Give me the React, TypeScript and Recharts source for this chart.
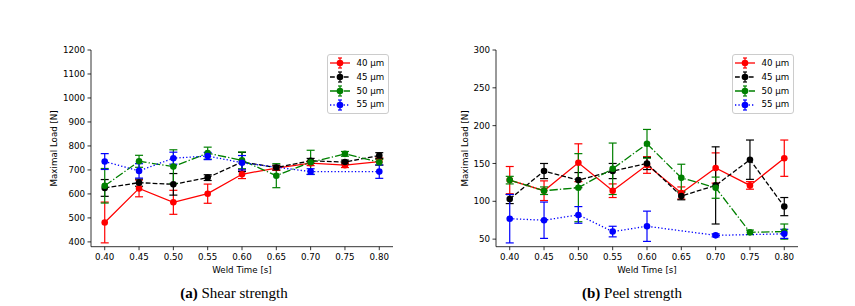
import { LineChart, Line, XAxis, YAxis, ErrorBar, Legend } from 'recharts';

const weldTimes = [0.4, 0.45, 0.5, 0.55, 0.6, 0.65, 0.7, 0.75, 0.8];

// shear test, maximal load [N] and std per thickness
const shear40 = [481, 623, 565, 601, 682, 708, 728, 720, 735];
const shear40Err = [85, 35, 50, 40, 18, 10, 10, 10, 15];
const shear45 = [625, 647, 640, 668, 733, 710, 738, 733, 760];
const shear45Err = [35, 15, 45, 12, 40, 10, 10, 8, 12];
const shear50 = [634, 736, 714, 770, 740, 676, 732, 767, 732];
const shear50Err = [72, 25, 70, 25, 35, 50, 50, 10, 12];
const shear55 = [735, 696, 749, 758, 730, null, 693, null, 693];
const shear55Err = [33, 30, 25, 15, 30, null, 12, null, 28];

// peel test
const peel40 = [128, 114, 151, 114, 148, 111, 144, 121, 157];
const peel40Err = [18, 13, 25, 9, 11, 8, 20, 5, 24];
const peel45 = [103, 140, 128, 140, 150, 107, 121, 155, 93];
const peel45Err = [6, 10, 10, 10, 8, 5, 51, 26, 12];
const peel50 = [128, 114, 118, 143, 176, 131, 118, 59, 60];
const peel50Err = [5, 5, 45, 34, 19, 18, 14, 3, 10];
const peel55 = [77, 75, 82, 60, 67, null, 55, null, 57];
const peel55Err = [32, 24, 11, 7, 20, null, 2, null, 6];

const shearTicks = [400, 500, 600, 700, 800, 900, 1000, 1100, 1200];
const peelTicks = [50, 100, 150, 200, 250, 300];

const FONT = '"DejaVu Sans", sans-serif';

const seriesStyles = [
  { key: 'a', name: '40 µm', color: '#ff0000', dash: undefined as string | undefined },
  { key: 'b', name: '45 µm', color: '#000000', dash: '4.8 2.1' },
  { key: 'c', name: '50 µm', color: '#008000', dash: '8.3 2.1 1.3 2.1' },
  { key: 'd', name: '55 µm', color: '#0000ff', dash: '1.3 2.1' },
];

type Cell = number | null;

function buildRows(values: Cell[][], errors: Cell[][]) {
  return weldTimes.map((t, i) => {
    const row: Record<string, Cell> = { t };
    seriesStyles.forEach((s, j) => {
      row[s.key] = values[j][i];
      row[s.key + 'Err'] = errors[j][i];
    });
    return row;
  });
}

const shearData = buildRows(
  [shear40, shear45, shear50, shear55],
  [shear40Err, shear45Err, shear50Err, shear55Err],
);
const peelData = buildRows(
  [peel40, peel45, peel50, peel55],
  [peel40Err, peel45Err, peel50Err, peel55Err],
);

const LegendBox = () => (
  <div style={{
    width: 62, boxSizing: 'border-box', border: '1px solid #cccccc', borderRadius: 3,
    background: 'rgba(255,255,255,0.8)', padding: '1.4px 0', fontFamily: FONT, fontSize: 8.7, color: '#000',
  }}>
    {seriesStyles.map(s => (
      <div key={s.key} style={{ display: 'flex', alignItems: 'center', height: 13.8 }}>
        <svg width={20} height={12} style={{ marginLeft: 1.5, overflow: 'visible' }}>
          <line x1={0} x2={20} y1={6} y2={6} stroke={s.color} strokeWidth={1.3} strokeDasharray={s.dash} />
          <line x1={10} x2={10} y1={1} y2={11} stroke={s.color} strokeWidth={1.2} />
          <line x1={8} x2={12} y1={1} y2={1} stroke={s.color} strokeWidth={1.2} />
          <line x1={8} x2={12} y1={11} y2={11} stroke={s.color} strokeWidth={1.2} />
          <circle cx={10} cy={6} r={3.3} fill={s.color} />
        </svg>
        <span style={{ marginLeft: 7, lineHeight: 1 }}>{s.name}</span>
      </div>
    ))}
  </div>
);

interface PanelProps {
  data: Record<string, Cell>[];
  width: number;
  left: number;
  right: number;
  yWidth: number;
  yDomain: [number, number];
  yTicks: number[];
  title: string;
  tag: string;
  caption: string;
  captionShift: number;
  yLabelGap: number;
  legendLeft: number;
}

function Panel(p: PanelProps) {
  const titleLabel = (props: any) => {
    const vb = props.viewBox;
    return (
      <text x={vb.x + vb.width / 2} y={vb.y - 4.7} textAnchor="middle" fontFamily={FONT} fontSize={10.7} fill="#000">
        {p.title}
      </text>
    );
  };
  const bottomLabel = (props: any) => {
    const vb = props.viewBox;
    const cx = vb.x + vb.width / 2;
    return (
      <g>
        <text x={cx} y={vb.y + 26.3} textAnchor="middle" fontFamily={FONT} fontSize={8.7} fill="#000">
          Weld Time [s]
        </text>
        <text x={cx + p.captionShift} y={vb.y + 51.6} textAnchor="middle"
          fontFamily='"Liberation Serif", "Times New Roman", serif' fontSize={15} fill="#000">
          <tspan fontWeight="bold">({p.tag})</tspan> {p.caption}
        </text>
      </g>
    );
  };
  const yLabel = (props: any) => {
    const vb = props.viewBox;
    const x = vb.x + vb.width - p.yLabelGap;
    const y = vb.y + vb.height / 2;
    return (
      <text x={x} y={y} transform={`rotate(-90, ${x}, ${y})`} textAnchor="middle" dominantBaseline="central"
        fontFamily={FONT} fontSize={8.7} fill="#000">
        Maximal Load [N]
      </text>
    );
  };
  const tickStyle = { fontSize: 8.7, fontFamily: FONT, fill: '#000' };
  const axisStroke = { stroke: '#000', strokeWidth: 0.8 };

  return (
    <LineChart width={p.width} height={306} data={p.data}
      margin={{ top: 50, right: p.right, bottom: 306 - 246.7 - 30, left: p.left - p.yWidth }}>
      <XAxis dataKey="t" type="number" domain={[0.38, 0.82]} ticks={weldTimes}
        tickFormatter={(v: number) => v.toFixed(2)} tick={tickStyle} tickSize={3.5} tickMargin={4}
        axisLine={axisStroke} tickLine={axisStroke} height={30} label={bottomLabel} allowDataOverflow />
      <XAxis xAxisId="top" orientation="top" dataKey="t" type="number" domain={[0.38, 0.82]}
        height={0} tick={false} tickLine={false} axisLine={axisStroke} label={titleLabel} allowDataOverflow />
      <YAxis type="number" domain={p.yDomain} ticks={p.yTicks} tick={tickStyle} tickSize={3.5} tickMargin={2.5}
        axisLine={axisStroke} tickLine={axisStroke} width={p.yWidth} label={yLabel} allowDataOverflow />
      <YAxis yAxisId="right" orientation="right" type="number" domain={p.yDomain} width={0}
        tick={false} tickLine={false} axisLine={axisStroke} allowDataOverflow />
      {seriesStyles.map(s => (
        <Line key={s.key} type="linear" dataKey={s.key} name={s.name} stroke={s.color} strokeWidth={1.3}
          strokeDasharray={s.dash} connectNulls isAnimationActive={false} activeDot={false}
          dot={{ r: 3.3, fill: s.color, stroke: s.color, strokeWidth: 0 }}>
          <ErrorBar dataKey={s.key + 'Err'} direction="y" width={4} stroke={s.color} strokeWidth={1.2}
            isAnimationActive={false} />
        </Line>
      ))}
      <Legend layout="horizontal" align="center" verticalAlign="middle" content={<LegendBox />}
        wrapperStyle={{ top: 54, left: p.legendLeft, width: 62 }} />
    </LineChart>
  );
}

export default function App() {
  return (
    <div style={{ position: 'absolute', left: 0, top: 0, width: 855, height: 306, background: '#fff' }}>
      <div style={{ position: 'absolute', left: 0, top: 0 }}>
        <Panel data={shearData} width={430} left={91} right={37} yWidth={50}
          yDomain={[380, 1200]} yTicks={shearTicks} title="Maximal Load for Shear Test"
          tag="a" caption="Shear strength" captionShift={-8} yLabelGap={37} legendLeft={327} />
      </div>
      <div style={{ position: 'absolute', left: 430, top: 0 }}>
        <Panel data={peelData} width={425} left={66} right={57} yWidth={40}
          yDomain={[40, 300]} yTicks={peelTicks} title="Maximal Load for Peel Test"
          tag="b" caption="Peel strength" captionShift={-15} yLabelGap={31} legendLeft={302} />
      </div>
    </div>
  );
}
